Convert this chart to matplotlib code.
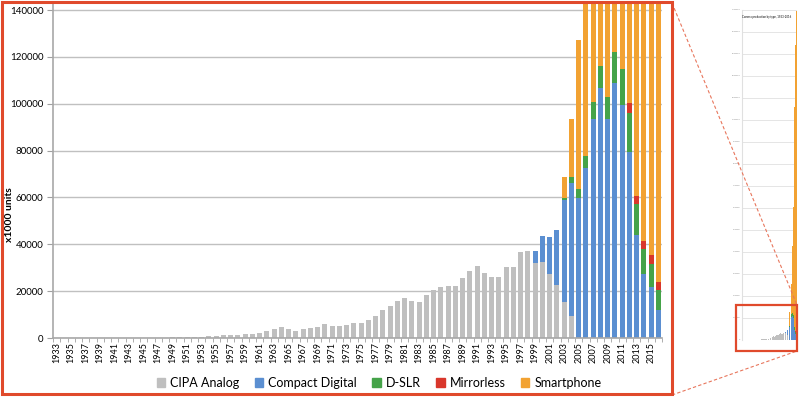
import numpy as np
import matplotlib.pyplot as plt
from matplotlib.patches import Patch, Rectangle
from matplotlib.lines import Line2D

plt.rcParams['font.family'] = ['Lato', 'DejaVu Sans']

years = list(range(1933, 2017))

# x1000 units
analog = [120, 140, 150, 170, 190, 180, 170, 150, 130, 90,
          70, 50, 40, 100, 160, 200, 230, 260, 320, 450,
          600, 850, 1000, 1250, 1300, 1350, 1800, 1650, 2100, 2900,
          3900, 4600, 3900, 3100, 3700, 4100, 4900, 5900, 5200, 5300,
          5700, 6400, 6500, 7700, 9300, 11800, 13600, 15900, 17200, 15900,
          15500, 18400, 20600, 21700, 22100, 22300, 25800, 28400, 30900, 27700,
          25900, 25900, 30500, 30300, 36900, 37000, 32000, 32300, 27200, 22800,
          15400, 9300, 0, 0, 0, 0, 0, 0, 0, 0,
          0, 0, 0, 0]
compact = [0] * 66 + [5200, 11100, 16000, 23500, 43500, 57000, 59600, 72400,
                      93500, 106600, 93500, 108700, 99300, 79200, 43900, 27500,
                      21800, 11800]
dslr = [0] * 70 + [700, 2500, 3800, 5400, 7400, 9700, 9500, 13300,
                   15400, 17000, 13500, 10700, 10000, 8600]
mirrorless = [0] * 79 + [4300, 3400, 3300, 3500, 3500]
smartphone = [0] * 70 + [9100, 24700, 63600, 80000, 122000, 139000, 174000, 305000,
                         490000, 720000, 1000000, 1300000, 1430000, 1470000]

series = [("CIPA Analog", analog, "#bfbfbf"),
          ("Compact Digital", compact, "#5b8fd1"),
          ("D-SLR", dslr, "#45a349"),
          ("Mirrorless", mirrorless, "#d9372b"),
          ("Smartphone", smartphone, "#f2a232")]

fig = plt.figure(figsize=(8, 3.98), dpi=100)
x = np.arange(len(years))


def draw_bars(ax, width):
    bottom = np.zeros(len(years))
    for name, vals, col in series:
        v = np.array(vals, dtype=float)
        ax.bar(x, v, width, bottom=bottom, color=col, zorder=2, linewidth=0)
        bottom += v


# main chart
ax = fig.add_axes([53 / 800, 60 / 398, 609 / 800, 335 / 398])
draw_bars(ax, 0.66)
ax.set_xlim(-0.5, len(years) - 0.5)
ax.set_ylim(0, 143000)
ax.set_yticks(range(0, 140001, 20000))
ax.yaxis.grid(True, color="#c0c0c0", lw=1, zorder=0)
ax.set_xticks(x[::2])
ax.set_xticklabels([str(y) for y in years[::2]], rotation=90, fontsize=6.5)
ax.set_xticks(np.arange(-0.5, len(years), 1), minor=True)
ax.tick_params(axis="x", which="major", length=0, pad=3)
ax.tick_params(axis="x", which="minor", length=3, color="#a0a0a0")
ax.tick_params(axis="y", length=4, color="#a0a0a0", labelsize=7, pad=3)
for s in ["top", "right"]:
    ax.spines[s].set_visible(False)
for s in ["left", "bottom"]:
    ax.spines[s].set_color("#a8a8a8")
    ax.spines[s].set_linewidth(1.2)
fig.text(10 / 800, 1 - 215 / 398, "x1000 units", rotation=90, ha="center", va="center",
         fontsize=7.5, fontweight="bold")

handles = [Patch(color=c, label=n) for n, _, c in series]
fig.legend(handles=handles, loc="center", bbox_to_anchor=(379 / 800, 1 - 383 / 398),
           ncol=5, frameon=False, fontsize=9, handlelength=0.7, handleheight=0.7,
           handletextpad=0.4, columnspacing=1.2)

# thumbnail of full chart
ax2 = fig.add_axes([742 / 800, 58 / 398, 55 / 800, 330 / 398])
draw_bars(ax2, 0.8)
ax2.set_xlim(-0.5, len(years) - 0.5)
ax2.set_ylim(0, 1500000)
ax2.set_yticks(range(0, 1500001, 100000))
ax2.ticklabel_format(axis="y", style="plain", useOffset=False)
ax2.yaxis.grid(True, color="#e0e0e0", lw=0.6, zorder=0)
ax2.tick_params(length=0, labelsize=1.5, labelcolor="#888888", pad=1)
ax2.set_xticks([])
for s in ax2.spines.values():
    s.set_visible(False)
ax2.spines["left"].set_visible(True)
ax2.spines["left"].set_color("#e0e0e0")
ax2.text(0.45, 0.985, "Camera production by type, 1933-2016", transform=ax2.transAxes,
         fontsize=2, ha="center", va="top")

red = "#e04a2c"
fig.add_artist(Rectangle((1.5 / 800, 1 - 394 / 398), 670 / 800, 392 / 398,
                         transform=fig.transFigure, fill=False, ec=red, lw=2.2, zorder=10))
fig.add_artist(Rectangle((736 / 800, 1 - 351 / 398), 61 / 800, 46 / 398,
                         transform=fig.transFigure, fill=False, ec=red, lw=1.6, zorder=10))
fig.add_artist(Line2D([672 / 800, 797 / 800], [1 - 3 / 398, 1 - 305 / 398],
                      transform=fig.transFigure, color="#e8765c", lw=0.8, ls=(0, (3, 2))))
fig.add_artist(Line2D([672 / 800, 797 / 800], [1 - 395 / 398, 1 - 351 / 398],
                      transform=fig.transFigure, color="#e8765c", lw=0.8, ls=(0, (3, 2))))

plt.savefig("out.png", dpi=100)
